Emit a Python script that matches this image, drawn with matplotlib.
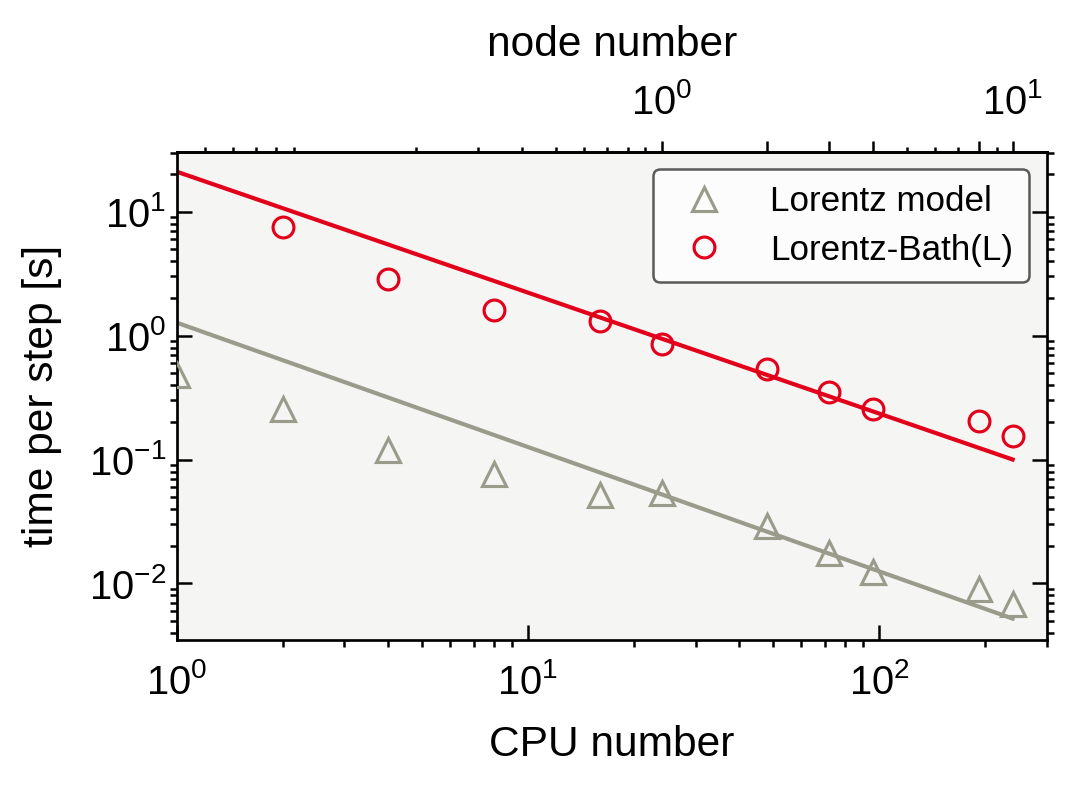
import matplotlib
matplotlib.use("Agg")
import matplotlib.pyplot as plt
from matplotlib.ticker import FixedLocator, FixedFormatter, LogLocator, NullFormatter

# measured times per step
cpu_bath = [2, 4, 8, 16, 24, 48, 72, 96, 192, 240]
t_bath = [7.5, 2.85, 1.62, 1.30, 0.86, 0.54, 0.35, 0.257, 0.206, 0.155]

cpu_lor = [1, 2, 4, 8, 16, 24, 48, 72, 96, 192, 240]
t_lor = [0.484, 0.257, 0.120, 0.0766, 0.0514, 0.0533, 0.029, 0.0176, 0.0124, 0.0090, 0.0068]

# ideal scaling guide lines (end points)
fit_cpu = [1, 240]
fit_bath = [21, 0.1]
fit_lor = [1.27, 0.0052]

cpu_per_node = 24
node_ticks = [1, 2, 3, 4, 8, 10]
node_labels = [r"$\mathdefault{10^{0}}$", "", "", "", "", r"$\mathdefault{10^{1}}$"]

gray = "#9b9b8b"
red = "#e2001a"

plt.rcParams["font.family"] = ["Liberation Sans", "DejaVu Sans"]
plt.rcParams["axes.linewidth"] = 0.65

fig = plt.figure(figsize=(1079 / 300, 790 / 300), dpi=300)
ax = fig.add_axes([0.164, 0.19, 0.806, 0.618])
ax.set_facecolor("#f5f5f3")

ax.plot(fit_cpu, fit_lor, color=gray, lw=1.0, zorder=2)
ax.plot(fit_cpu, fit_bath, color=red, lw=1.0, zorder=2)
ax.plot(cpu_lor, t_lor, ls="none", marker="^", ms=5.8, mfc="none", mec=gray, mew=0.75,
        label="Lorentz model", zorder=3)
ax.plot(cpu_bath, t_bath, ls="none", marker="o", ms=5.0, mfc="none", mec=red, mew=0.75,
        label="Lorentz-Bath(L)", zorder=3)

ax.set_xscale("log")
ax.set_yscale("log")
ax.set_xlim(1, 300)
ax.set_ylim(0.0035, 30.5)

ax.tick_params(which="major", direction="in", length=3.6, width=0.6, labelsize=9.6,
               right=True, top=False)
ax.tick_params(axis="x", which="major", pad=5.5)
ax.tick_params(axis="y", which="major", pad=2.5)
ax.tick_params(which="minor", direction="out", length=1.7, width=0.6, right=True, top=False)
ax.xaxis.set_minor_locator(LogLocator(base=10, subs=range(2, 10), numticks=20))
ax.yaxis.set_minor_locator(LogLocator(base=10, subs=range(2, 10), numticks=20))

ax.set_xlabel("CPU number", fontsize=10.2, labelpad=5.5)
ax.set_ylabel("time per step [s]", fontsize=10.2, labelpad=6.5)

top = ax.secondary_xaxis("top", functions=(lambda x: x / cpu_per_node, lambda n: n * cpu_per_node))
top.set_xscale("log")
top.xaxis.set_major_locator(FixedLocator(node_ticks))
top.xaxis.set_major_formatter(FixedFormatter(node_labels))
top.xaxis.set_minor_locator(LogLocator(base=10, subs=range(2, 10), numticks=20))
top.xaxis.set_minor_formatter(NullFormatter())
top.tick_params(which="major", direction="out", length=2.7, width=0.6, labelsize=9.6, pad=4.5)
top.tick_params(which="minor", direction="out", length=1.3, width=0.6)
top.set_xlabel("node number", fontsize=10.2, labelpad=6.5)

leg = ax.legend(loc="upper right", prop={"family": "Liberation Sans", "size": 8.4},
                handletextpad=0.9, labelspacing=0.45, borderpad=0.45)
leg.get_frame().set_edgecolor("#333333")
leg.get_frame().set_linewidth(0.6)

fig.savefig("out.png", dpi=300)
